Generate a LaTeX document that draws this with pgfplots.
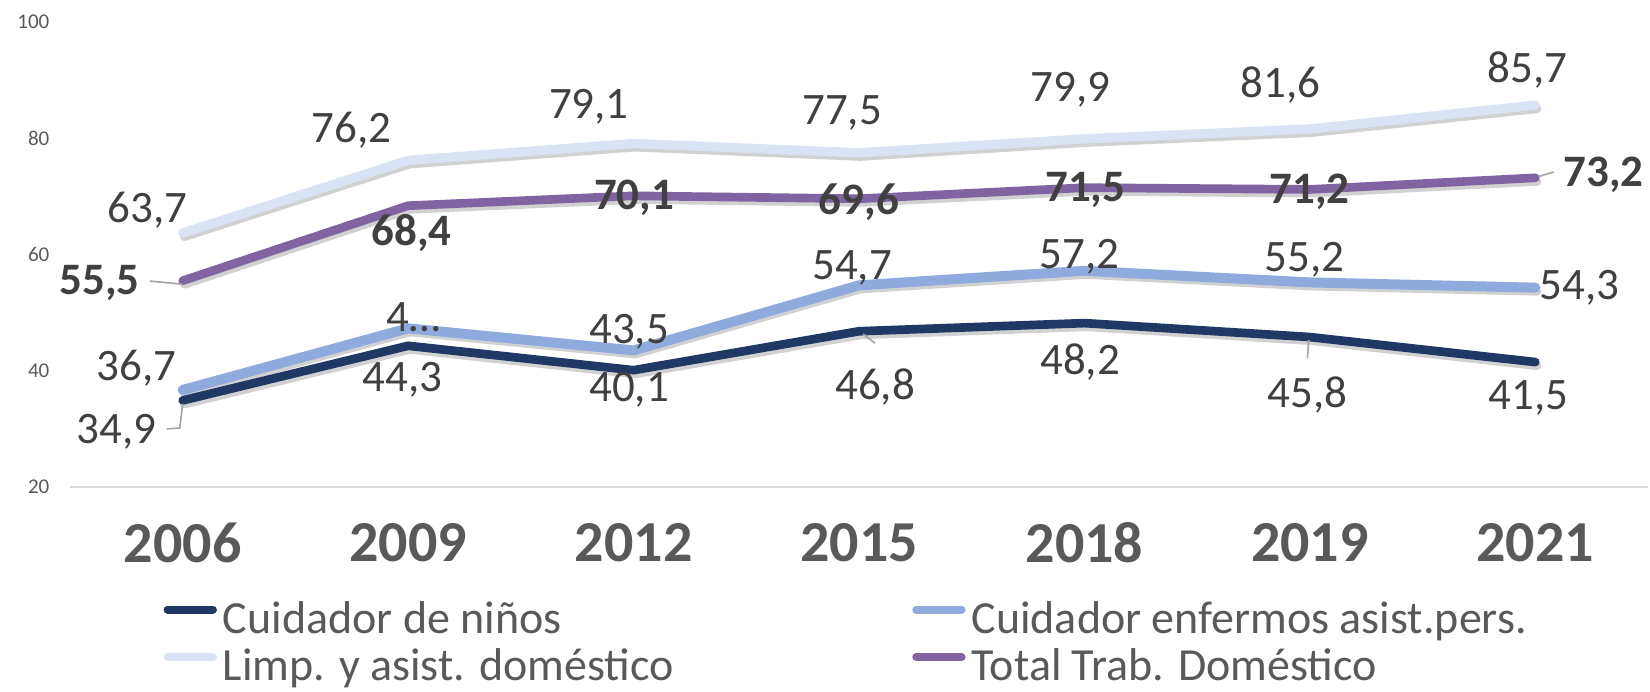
\documentclass[border=0pt]{standalone}
\usepackage{pgfplots}
\pgfplotsset{compat=1.18}
\usepackage{fontspec}
\setmainfont{Carlito}

\definecolor{ninos}{HTML}{1F3864}
\definecolor{enfermos}{HTML}{8FAADC}
\definecolor{limp}{HTML}{DAE3F3}
\definecolor{total}{HTML}{8064A2}
\definecolor{lbl}{HTML}{404040}
\definecolor{tck}{HTML}{595959}
\definecolor{base}{HTML}{D9D9D9}

\newcommand{\lab}{\fontsize{13.5}{15}\selectfont}

\pgfplotstableread{
x ninos enfermos limp total
0 34.9 36.7 63.7 55.5
1 44.3 47.3 76.2 68.4
2 40.1 43.5 79.1 70.1
3 46.8 54.7 77.5 69.6
4 48.2 57.2 79.9 71.5
5 45.8 55.2 81.6 71.2
6 41.5 54.3 85.7 73.2
}\datatab

\begin{document}
\begin{tikzpicture}
\begin{axis}[
  at={(0,0)}, anchor=south west,
  width=473.4pt, height=139.5pt, scale only axis,
  xmin=-0.5, xmax=6.5, ymin=20, ymax=100,
  xtick={0,...,6},
  xticklabels={2006,2009,2012,2015,2018,2019,2021},
  ytick={20,40,60,80,100},
  axis x line*=bottom, axis y line*=left,
  x axis line style={draw=base, line width=0.7pt},
  y axis line style={draw=none},
  major tick length=0pt,
  xticklabel style={font=\fontsize{17.4}{20}\selectfont\bfseries, text=tck, anchor=center, yshift=-16.8pt},
  yticklabel style={font=\fontsize{6.3}{7}\selectfont, text=tck, anchor=east, inner sep=0pt, xshift=-6pt},
  /pgf/number format/assume math mode=true,
  clip=false,
  legend columns=2,
  legend cell align=left,
  legend style={at={(axis description cs:0.0589,-0.2420)}, anchor=north west,
    draw=none, fill=none, inner sep=0pt, row sep=0pt,
    font=\fontsize{13.8}{14.4}\selectfont, text=tck,
    nodes={inner ysep=0pt, inner xsep=1.8pt, text height=10pt, text depth=4.2pt}},
  legend image code/.code={\draw[#1, line width=2.4pt, line cap=round] (1.2pt,4.3pt) -- (14.8pt,4.3pt);},
  every axis plot/.append style={line cap=round, line join=round},
  shadow/.style={black, opacity=0.18, line width=2.6pt, xshift=0.5pt, yshift=-1.1pt, forget plot},
]
% soft shadows under the lines
\addplot[shadow] table[x=x, y=ninos] {\datatab};
\addplot[shadow] table[x=x, y=enfermos] {\datatab};
\addplot[shadow] table[x=x, y=limp] {\datatab};
\addplot[shadow] table[x=x, y=total] {\datatab};

\addplot[ninos, line width=2.6pt] table[x=x, y=ninos] {\datatab};
\addlegendentry{\makebox[205pt][l]{Cuidador de niños}}
\addplot[enfermos, line width=3pt] table[x=x, y=enfermos] {\datatab};
\addlegendentry{Cuidador enfermos asist.pers.}
\addplot[limp, line width=2.8pt] table[x=x, y=limp] {\datatab};
\addlegendentry{\makebox[205pt][l]{Limp. y asist. doméstico}}
\addplot[total, line width=2.6pt] table[x=x, y=total] {\datatab};
\addlegendentry{Total Trab. Doméstico}

% leader lines
\draw[gray!70, line width=0.5pt] (axis cs:-0.146,55.44) -- (axis cs:-0.004,54.9);
\draw[gray!70, line width=0.5pt] (axis cs:0,34.3) -- (axis cs:-0.013,30.15) -- (axis cs:-0.071,30.0);
\draw[gray!70, line width=0.5pt] (axis cs:3.018,46.3) -- (axis cs:3.071,44.77);
\draw[gray!70, line width=0.5pt] (axis cs:4.995,45.3) -- (axis cs:4.989,42.19);
\draw[gray!70, line width=0.5pt] (axis cs:6.014,73.4) -- (axis cs:6.081,74.2);

\begin{scope}[every node/.style={font=\lab, text=lbl, inner sep=0pt}]
% Limp. y asist. domestico
\node at (axis cs:-0.155,67.66) {63,7};
\node at (axis cs:0.750,81.42) {76,2};
\node at (axis cs:1.802,85.38) {79,1};
\node at (axis cs:2.925,84.35) {77,5};
\node at (axis cs:3.937,88.30) {79,9};
\node at (axis cs:4.869,89.16) {81,6};
\node at (axis cs:5.965,91.74) {85,7};
% Cuidador enfermos
\node at (axis cs:-0.204,40.47) {36,7};
\node at (axis cs:1.025,49.25) {4…};
\node at (axis cs:1.980,46.67) {43,5};
\node at (axis cs:2.969,57.68) {54,7};
\node at (axis cs:3.977,59.57) {57,2};
\node at (axis cs:4.976,59.05) {55,2};
\node at (axis cs:6.197,54.24) {54,3};
% Cuidador de ninos
\node at (axis cs:-0.293,29.46) {34,9};
\node at (axis cs:0.976,38.41) {44,3};
\node at (axis cs:1.980,36.69) {40,1};
\node at (axis cs:3.071,37.20) {46,8};
\node at (axis cs:3.981,41.51) {48,2};
\node at (axis cs:4.989,35.83) {45,8};
\node at (axis cs:5.970,35.31) {41,5};
% Total
\node[font=\lab\bfseries] at (axis cs:-0.368,55.10) {55,5};
\node[font=\lab\bfseries] at (axis cs:1.016,63.70) {68,4};
\node[font=\lab\bfseries] at (axis cs:2.002,69.72) {70,1};
\node[font=\lab\bfseries] at (axis cs:3.000,69.03) {69,6};
\node[font=\lab\bfseries] at (axis cs:4.004,71.10) {71,5};
\node[font=\lab\bfseries] at (axis cs:4.998,70.75) {71,2};
\node[font=\lab\bfseries] at (axis cs:6.303,73.68) {73,2};
\end{scope}
\end{axis}
\pgfresetboundingbox
\useasboundingbox (-21pt,-61.2pt) rectangle (474pt,146.1pt);
\end{tikzpicture}
\end{document}
